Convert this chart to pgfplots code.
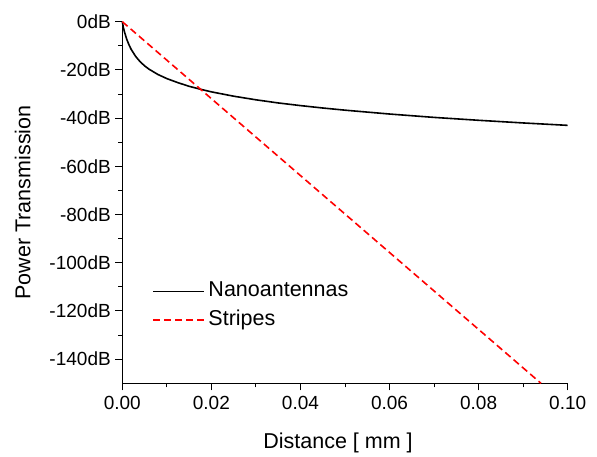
\documentclass[border=0pt]{standalone}
\usepackage{fontspec}
\setmainfont{Liberation Sans}
\usepackage{pgfplots}
\pgfplotsset{compat=1.18}
\begin{document}
\begin{tikzpicture}
\begin{axis}[
  scale only axis,
  width=445.4pt, height=361.6pt,
  at={(0pt,0pt)}, anchor=south west,
  xmin=0, xmax=0.1, ymin=-150, ymax=0,
  axis x line*=bottom, axis y line*=left,
  axis line style={-, line width=1pt},
  tick align=outside,
  major tick length=7pt, minor tick length=4pt,
  every tick/.style={black, line width=1pt},
  xtick={0,0.02,0.04,0.06,0.08,0.1},
  xticklabels={0.00,0.02,0.04,0.06,0.08,0.10},
  minor x tick num=1,
  ytick={0,-20,-40,-60,-80,-100,-120,-140},
  yticklabels={0dB,-20dB,-40dB,-60dB,-80dB,-100dB,-120dB,-140dB},
  minor y tick num=1,
  tick label style={font=\fontsize{19}{22}\selectfont},
  xticklabel style={yshift=-2pt},
  yticklabel style={xshift=-1pt},
  xlabel={Distance [ mm ]},
  ylabel={Power Transmission},
  label style={font=\fontsize{21.5}{25}\selectfont},
  xlabel style={yshift=-17pt, xshift=-7pt},
  ylabel style={yshift=12pt},
  legend style={draw=none, fill=none, at={(0.0671,0.2837)}, anchor=north west,
    font=\fontsize{21.5}{25}\selectfont, row sep=7.5pt, inner sep=0pt,
    nodes={inner xsep=3.5pt, inner ysep=0pt, text height=16pt, text depth=5pt}},
  legend cell align=left,
  legend image code/.code={\draw[line width=1.6pt,#1] (0pt,0pt) -- (51pt,0pt);},
  clip=false,
]
\addplot[black, line width=1.6pt] coordinates {
(0,0) (0.00025,-2.5) (0.0005,-4.3) (0.001,-7.3) (0.0015,-9.6) (0.002,-11.5)
(0.003,-14.4) (0.004,-16.6) (0.005,-18.3) (0.006,-19.7) (0.008,-21.9)
(0.010,-23.6) (0.0125,-25.3) (0.015,-26.8) (0.0175,-28.0) (0.020,-29.1)
(0.025,-30.9) (0.030,-32.4) (0.035,-33.7) (0.040,-34.8) (0.045,-35.8)
(0.050,-36.7) (0.055,-37.5) (0.060,-38.3) (0.070,-39.7) (0.080,-40.9)
(0.090,-42.0) (0.100,-43.0)
};
\addlegendentry{Nanoantennas}
\addplot[red, line width=1.6pt, dash pattern=on 7pt off 4pt] coordinates {
(0,0) (0.094,-150)
};
\addlegendentry{Stripes}
\end{axis}
\path (-122.3pt,-70.7pt) rectangle (474.7pt,383.3pt);
\end{tikzpicture}
\end{document}
